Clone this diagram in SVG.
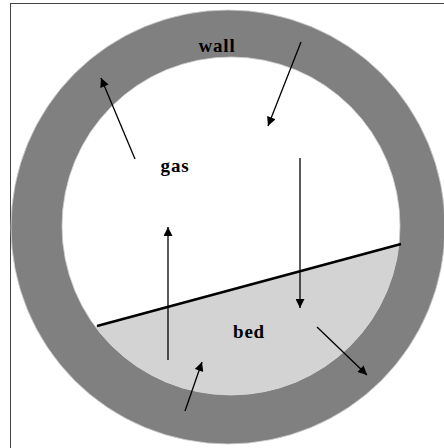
<svg xmlns="http://www.w3.org/2000/svg" width="444" height="448" viewBox="0 0 444 448">
<style>
.lbl{font-family:"Liberation Serif","DejaVu Serif",serif;font-weight:bold;font-size:19px;letter-spacing:0.8px;fill:#000;text-anchor:middle}
.arr{stroke:#000;stroke-width:1.3;fill:none;marker-end:url(#ah)}
</style>
<defs>
<marker id="ah" viewBox="0 0 10 10" refX="10" refY="5" markerWidth="10" markerHeight="9" markerUnits="userSpaceOnUse" orient="auto">
<path d="M0,0 L10,5 L0,10 Z" fill="#000"/>
</marker>
<clipPath id="inner"><circle cx="231" cy="226" r="169"/></clipPath>
</defs>
<rect x="0" y="0" width="444" height="448" fill="#fff"/>
<rect x="10.5" y="3.5" width="440" height="450" fill="none" stroke="#444" stroke-width="1"/>
<g id="wall">
<circle cx="228" cy="227" r="217" fill="#808080" stroke="#d0d0d0" stroke-width="0.8"/>
<circle cx="231" cy="226" r="169" fill="#fff" stroke="#d0d0d0" stroke-width="0.8"/>
</g>
<g id="bed">
<polygon points="97,326 401,244 460,244 460,460 0,460 0,326" fill="#d3d3d3" clip-path="url(#inner)"/>
<line x1="97" y1="326" x2="401" y2="244" stroke="#000" stroke-width="2.5"/>
</g>
<g id="connectors">
<line class="arr" x1="135" y1="159" x2="101" y2="78"/>
<line class="arr" x1="301" y1="42" x2="268" y2="126"/>
<line class="arr" x1="300" y1="158" x2="300" y2="308"/>
<line class="arr" x1="168" y1="360" x2="168" y2="227"/>
<line class="arr" x1="185" y1="411" x2="202" y2="362"/>
<line class="arr" x1="317" y1="327" x2="367" y2="375"/>
</g>
<g id="labels">
<text class="lbl" x="217" y="52">wall</text>
<text class="lbl" x="175" y="172">gas</text>
<text class="lbl" x="249" y="338">bed</text>
</g>
</svg>
